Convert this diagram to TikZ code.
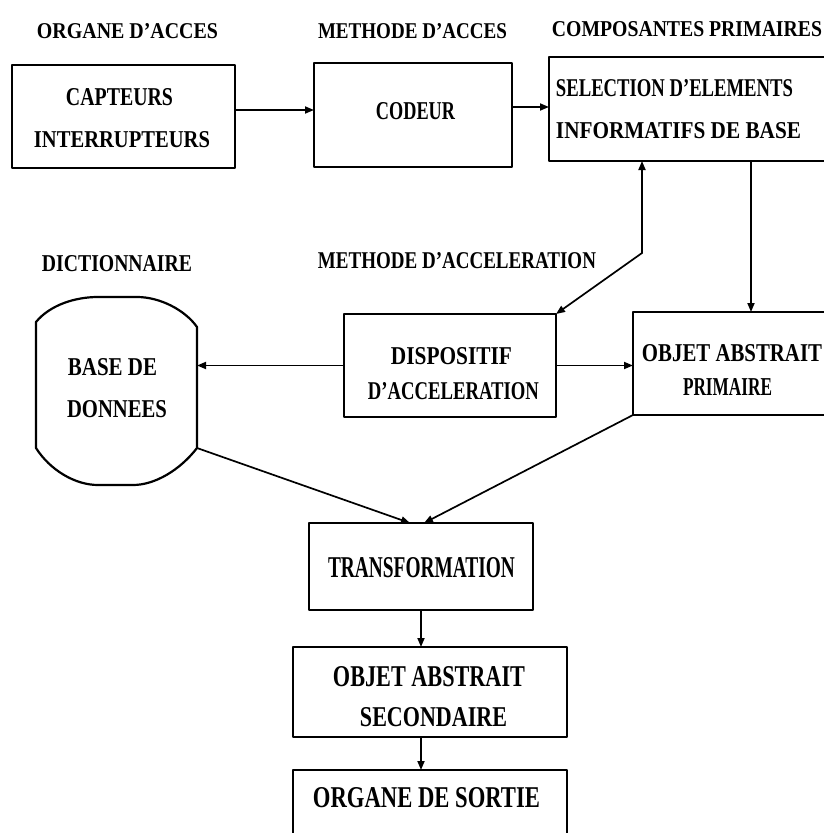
\documentclass[tikz,border=0pt]{standalone}
\usepackage{fontspec}
\setmainfont{Liberation Serif}
\usepackage{graphicx}
\usetikzlibrary{arrows.meta}
\newcommand\fitU[3]{\resizebox{#1pt}{#2pt}{\bfseries #3}}
\newcommand\fitL[3]{\resizebox{#1pt}{#2pt}{\bfseries #3}}
\tikzset{
  boxline/.style={line width=2.2pt, line join=round},
  box/.style={boxline, draw, rectangle, inner sep=0pt, outer sep=0pt},
  lbl/.style={inner sep=0pt, outer sep=0pt},
  arr/.style={line width=1.7pt, -{Triangle[length=9pt,width=7pt]}},
  arrtwo/.style={line width=1.7pt, {Triangle[length=9pt,width=7pt]}-{Triangle[length=9pt,width=7pt]}},
}
\begin{document}
\begin{tikzpicture}[x=1pt,y=-1pt]
\clip (0,0) rectangle (824,833);
\fill[white] (0,0) rectangle (824,833);

% headings
\node[lbl] (hOrg) at (127.5,31.5) {\fitU{181}{15}{ORGANE D'ACCES}};
\node[lbl] (hMeth) at (412.5,31.5) {\fitU{189}{15}{METHODE D'ACCES}};
\node[lbl] (hComp) at (687,29.5) {\fitU{270}{15}{COMPOSANTES PRIMAIRES}};
\node[lbl] (hDict) at (117,264) {\fitU{150}{16}{DICTIONNAIRE}};
\node[lbl] (hAcc) at (457,261) {\fitU{278}{16}{METHODE D'ACCELERATION}};

% boxes
\node[box, minimum width=223pt, minimum height=103pt] (cap) at (123.5,116.5) {};
\node[box, minimum width=198pt, minimum height=104pt] (cod) at (413,115) {};
\node[box, minimum width=281pt, minimum height=104pt] (sel) at (689.5,109) {};
\node[lbl, minimum width=161pt, minimum height=188pt] (base) at (116.5,391) {};
\node[box, minimum width=212pt, minimum height=103pt] (disp) at (450,365.5) {};
\node[box, minimum width=197pt, minimum height=103pt] (obj) at (731.5,363.5) {};
\node[box, minimum width=224pt, minimum height=87pt] (trans) at (421,566.5) {};
\node[box, minimum width=274pt, minimum height=90pt] (sec) at (430,692) {};
\node[box, minimum width=274pt, minimum height=75pt] (sortie) at (430,807.5) {};

% cylinder outline
\draw[boxline] (base.west |- 0,448) -- (base.west |- 0,322)
  .. controls (50,305) and (75,297) .. (98,297) -- (137,297)
  .. controls (160,297) and (185,310) .. (base.east |- 0,327)
  -- (base.east |- 0,448)
  .. controls (180,470) and (155,485) .. (133,485) -- (98,485)
  .. controls (75,485) and (50,470) .. (base.west |- 0,448) -- cycle;

% box texts
\node[lbl] (tCap1) at (119.5,97.5) {\fitU{107}{17}{CAPTEURS}};
\node[lbl] (tCap2) at (122,140) {\fitU{176}{16}{INTERRUPTEURS}};
\node[lbl] (tCod) at (415.5,111.5) {\fitU{79}{17}{CODEUR}};
\node[lbl] (tSel1) at (674.5,88.5) {\fitU{237}{17}{SELECTION D'ELEMENTS}};
\node[lbl] (tSel2) at (678.5,131) {\fitU{245}{16}{INFORMATIFS DE BASE}};
\node[lbl] (tBase1) at (112.5,367.5) {\fitU{89}{17}{BASE DE}};
\node[lbl] (tBase2) at (117,409) {\fitU{100}{17}{DONNEES}};
\node[lbl] (tDisp1) at (451.5,356.5) {\fitU{121}{17}{DISPOSITIF}};
\node[lbl] (tDisp2) at (453.5,391) {\fitU{171}{17}{D'ACCELERATION}};
\node[lbl] (tObj1) at (732,353.5) {\fitU{180}{17}{OBJET ABSTRAIT}};
\node[lbl] (tObj2) at (727.5,386.5) {\fitU{89}{17}{PRIMAIRE}};
\node[lbl] (tTrans) at (421.5,567.5) {\fitL{187}{20}{TRANSFORMATION}};
\node[lbl] (tSec1) at (429,677) {\fitL{192}{20}{OBJET ABSTRAIT}};
\node[lbl] (tSec2) at (433.5,717.5) {\fitL{147}{19}{SECONDAIRE}};
\node[lbl] (tSort) at (426.5,798) {\fitL{227}{20}{ORGANE DE SORTIE}};

% connectors
\coordinate (bend) at (642,253);
\coordinate (drop) at (751,200);
\coordinate (baseBR) at (197,448);
\draw[arr] ([yshift=6.5pt]cap.east) -- ([yshift=5pt]cod.west);
\draw[arr] ([yshift=8pt]cod.east) -- ([yshift=2pt]sel.west);
\draw[arrtwo] (bend |- sel.south) -- (bend) -- (disp.north east);
\draw[arr] (drop |- sel.south) -- (drop |- obj.north);
\draw[arr] (disp.west) -- (disp.west -| base.east);
\draw[arr] (disp.east) -- (disp.east -| obj.west);
\draw[arr] (baseBR) -- ([xshift=-11pt]trans.north);
\draw[arr] (obj.south west) -- ([xshift=3pt]trans.north);
\draw[arr] (trans.south) -- (trans.south |- sec.north);
\draw[arr] (trans.south |- sec.south) -- (trans.south |- sortie.north);
\end{tikzpicture}
\end{document}
